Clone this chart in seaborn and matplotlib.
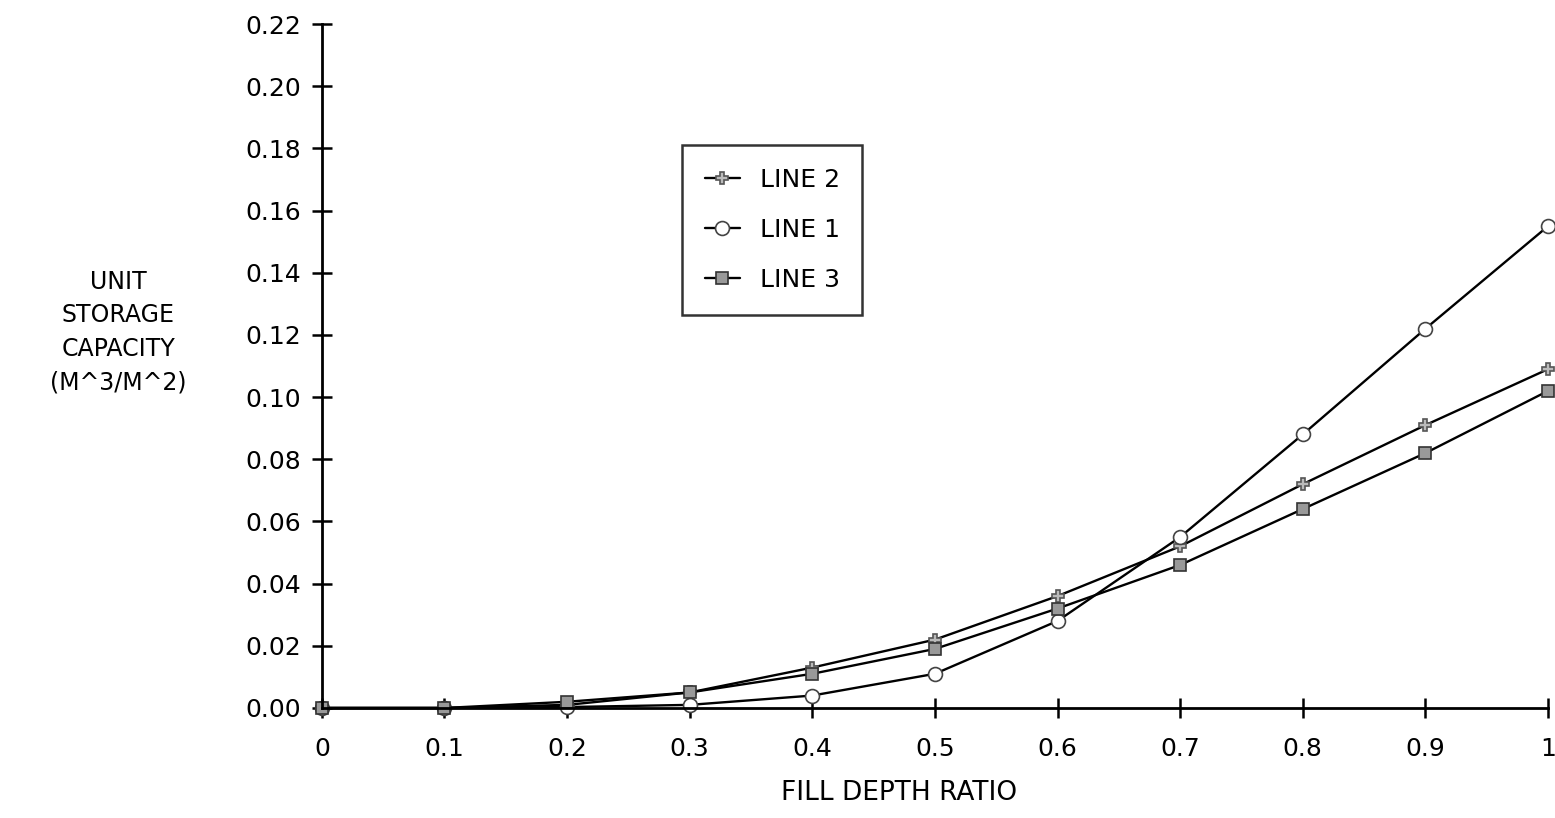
import matplotlib
matplotlib.use("Agg")
import matplotlib.pyplot as plt
import seaborn as sns
import pandas as pd

# Data
depth = [0, 0.1, 0.2, 0.3, 0.4, 0.5, 0.6, 0.7, 0.8, 0.9, 1.0]
line1 = [0.0, 0.0, 0.0003, 0.001, 0.004, 0.011, 0.028, 0.055, 0.088, 0.122, 0.155]
line2 = [0.0, 0.0, 0.001, 0.005, 0.013, 0.022, 0.036, 0.052, 0.072, 0.091, 0.109]
line3 = [0.0, 0.0, 0.002, 0.005, 0.011, 0.019, 0.032, 0.046, 0.064, 0.082, 0.102]

x_ticks = [0, 0.1, 0.2, 0.3, 0.4, 0.5, 0.6, 0.7, 0.8, 0.9, 1.0]
x_labels = ["0", "0.1", "0.2", "0.3", "0.4", "0.5", "0.6", "0.7", "0.8", "0.9", "1"]
y_ticks = [0.00, 0.02, 0.04, 0.06, 0.08, 0.10, 0.12, 0.14, 0.16, 0.18, 0.20, 0.22]

sns.set_style("white")
plt.rcParams['font.family'] = ['DejaVu Sans']
plt.rcParams['text.color'] = 'black'
plt.rcParams['xtick.color'] = 'black'
plt.rcParams['ytick.color'] = 'black'
plt.rcParams['axes.labelcolor'] = 'black'

fig = plt.figure(figsize=(15.55, 8.18), dpi=100)
ax = fig.add_axes([0.207, 0.1345, 0.7885, 0.836])

series = [
    ("LINE 2", line2, dict(marker="P", markersize=9, markerfacecolor="#bbbbbb", markeredgecolor="#555555")),
    ("LINE 1", line1, dict(marker="o", markersize=10, markerfacecolor="white", markeredgecolor="#444444")),
    ("LINE 3", line3, dict(marker="s", markersize=9, markerfacecolor="#999999", markeredgecolor="#333333")),
]

for name, vals, style in series:
    df = pd.DataFrame({"depth": depth, "cap": vals})
    sns.lineplot(data=df, x="depth", y="cap", ax=ax, color="black", linewidth=1.7,
                 label=name, clip_on=False, markeredgewidth=1.2, **style)

ax.set_xlim(0, 1)
ax.set_ylim(0, 0.22)
ax.set_xticks(x_ticks)
ax.set_xticklabels(x_labels)
ax.set_yticks(y_ticks)
ax.set_yticklabels([f"{v:.2f}" for v in y_ticks])
ax.tick_params(axis="both", direction="inout", length=14, width=1.8,
               labelsize=18, left=True, bottom=True)
ax.tick_params(axis="x", pad=14)
ax.tick_params(axis="y", pad=8)

for side in ["top", "right"]:
    ax.spines[side].set_visible(False)
for side in ["left", "bottom"]:
    ax.spines[side].set_color("black")
    ax.spines[side].set_linewidth(2)

ax.set_xlabel("FILL DEPTH RATIO", fontsize=19, labelpad=16)
ax.xaxis.set_label_coords(0.471, -0.105)
ax.set_ylabel("")
fig.text(0.076, 0.594, "UNIT\nSTORAGE\nCAPACITY\n(M^3/M^2)", ha="center", va="center",
         fontsize=17, linespacing=1.5)

leg = ax.legend(loc="upper left", bbox_to_anchor=(0.294, 0.823), borderaxespad=0,
                fontsize=18, frameon=True, fancybox=False, edgecolor="black",
                handlelength=1.4, labelspacing=1.05, borderpad=0.9, handletextpad=0.8)
leg.get_frame().set_linewidth(1.8)

fig.savefig("out.png", dpi=100)
